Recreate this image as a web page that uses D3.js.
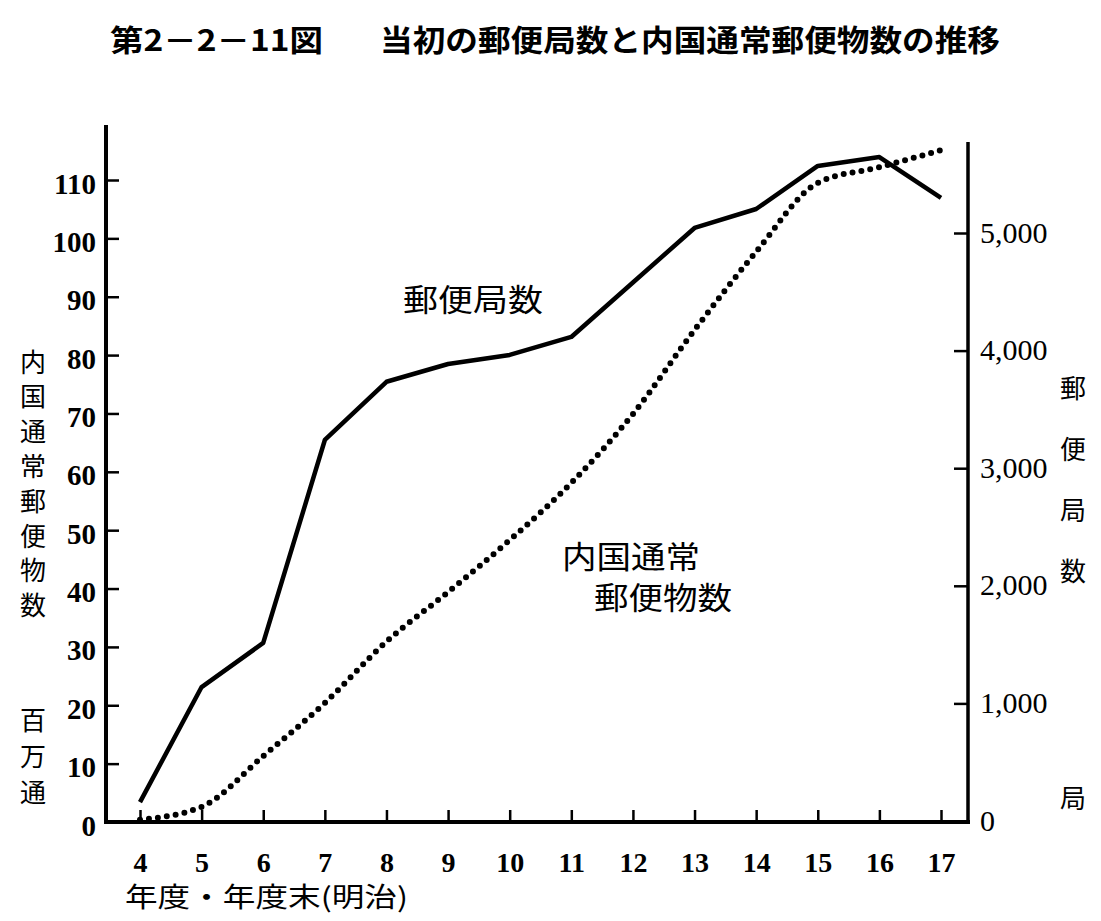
<!DOCTYPE html>
<html><head><meta charset="utf-8">
<script src="https://cdn.jsdelivr.net/npm/d3@7"></script>
<style>
html,body{margin:0;padding:0;background:#fff;}
svg{display:block;}
</style></head>
<body>
<svg id="chart" width="1101" height="921"></svg>
<script>
// ---- data ----
const years = [4,5,6,7,8,9,10,11,12,13,14,15,16,17];
const postOffices = [161,1139,1514,3240,3735,3886,3963,4116,4579,5043,5204,5570,5646,5298];   // 局
const mailVolume = [0.4,2.6,11.3,20.4,30.9,39.4,48.3,58.1,69.9,84.3,97.7,109.5,112.2,115.1]; // 百万通
const leftTicks = [0,10,20,30,40,50,60,70,80,90,100,110];
const rightTicks = [0,1000,2000,3000,4000,5000];
const titleA = "第2－2－11図";
const titleB = "当初の郵便局数と内国通常郵便物数の推移";
const leftTitle = "内国通常郵便物数";
const leftUnit = "百万通";
const rightTitle = "郵便局数";
const rightUnit = "局";
const xTitle = "年度・年度末(明治)";
const labelOffices = "郵便局数";
const labelMail1 = "内国通常";
const labelMail2 = "郵便物数";

const svg = d3.select("#chart");
const CJK = "'Noto Sans CJK JP', sans-serif";
const NUM = "'Liberation Serif', serif";

const x = d3.scaleLinear().domain([4,17]).range([140,941]);
const yL = d3.scaleLinear().domain([0,110]).range([822,180]);
const yR = d3.scaleLinear().domain([0,5000]).range([821,233]);

// title
svg.append("text").attr("x",110).attr("y",51).attr("font-family",CJK).attr("font-weight",700)
  .attr("font-size",30).attr("textLength",213).attr("lengthAdjust","spacingAndGlyphs").text(titleA);
svg.append("text").attr("x",380).attr("y",51).attr("font-family",CJK).attr("font-weight",700)
  .attr("font-size",30).attr("textLength",620).attr("lengthAdjust","spacingAndGlyphs").text(titleB);

// axes
const gL = svg.append("g").attr("transform","translate(106,0)")
  .call(d3.axisLeft(yL).tickValues(leftTicks).tickSize(-13).tickSizeOuter(0).tickPadding(10));
const gR = svg.append("g").attr("transform","translate(968,0)")
  .call(d3.axisRight(yR).tickValues(rightTicks).tickSize(-14).tickSizeOuter(0).tickPadding(12).tickFormat(d3.format(",")));
const gB = svg.append("g").attr("transform","translate(0,822)")
  .call(d3.axisBottom(x).tickValues(years).tickSize(-12).tickSizeOuter(0).tickPadding(30).tickFormat(d3.format("d")));
[gL,gR,gB].forEach(g=>{ g.select(".domain").remove(); g.selectAll(".tick line").attr("stroke","#000").attr("stroke-width",2.5);});
gL.selectAll("text").attr("font-family",NUM).attr("font-weight",700).attr("font-size",29).attr("fill","#000").attr("dy","0.45em");
gR.selectAll("text").attr("font-family",NUM).attr("font-size",30).attr("fill","#000").attr("dy","0.3em");
gB.selectAll("text").attr("font-family",NUM).attr("font-weight",700).attr("font-size",28).attr("fill","#000");

// axis lines
svg.append("line").attr("x1",106).attr("x2",106).attr("y1",125).attr("y2",824).attr("stroke","#000").attr("stroke-width",4);
svg.append("line").attr("x1",968).attr("x2",968).attr("y1",142).attr("y2",824).attr("stroke","#000").attr("stroke-width",3.5);
svg.append("line").attr("x1",104).attr("x2",970).attr("y1",822).attr("y2",822).attr("stroke","#000").attr("stroke-width",4);

// lines
const solid = d3.line().x((d,i)=>x(years[i])).y(d=>yR(d));
svg.append("path").datum(postOffices).attr("d",solid).attr("fill","none").attr("stroke","#000")
  .attr("stroke-width",4.5).attr("stroke-linejoin","round");
const dotted = d3.line().x((d,i)=>x(years[i])).y(d=>yL(d)).curve(d3.curveMonotoneX);
svg.append("path").datum(mailVolume).attr("d",dotted).attr("fill","none").attr("stroke","#000")
  .attr("stroke-width",6).attr("stroke-linecap","round").attr("stroke-dasharray","0 9");

// vertical axis titles
function vtext(str, cx, y0, step, size){
  svg.append("g").selectAll("text").data(Array.from(str)).join("text")
    .attr("x",cx).attr("y",(d,i)=>y0+i*step).attr("text-anchor","middle").attr("dominant-baseline","central")
    .attr("font-family",CJK).attr("font-size",size).attr("fill","#000").text(d=>d);
}
vtext(leftTitle, 33, 360, 34.8, 26);
vtext(leftUnit, 33, 718, 36, 26);
vtext(rightTitle, 1073, 386, 61, 26);
vtext(rightUnit, 1073, 796, 0, 26);

// x title
svg.append("text").attr("x",125).attr("y",907).attr("font-family",CJK).attr("font-size",27)
  .attr("textLength",283).attr("lengthAdjust","spacingAndGlyphs").text(xTitle);

// series labels
svg.append("text").attr("x",403).attr("y",311).attr("font-family",CJK).attr("font-size",31)
  .attr("textLength",140).attr("lengthAdjust","spacingAndGlyphs").text(labelOffices);
svg.append("text").attr("x",562).attr("y",568).attr("font-family",CJK).attr("font-size",31)
  .attr("textLength",138).attr("lengthAdjust","spacingAndGlyphs").text(labelMail1);
svg.append("text").attr("x",594).attr("y",609).attr("font-family",CJK).attr("font-size",31)
  .attr("textLength",138).attr("lengthAdjust","spacingAndGlyphs").text(labelMail2);
</script>
</body></html>
